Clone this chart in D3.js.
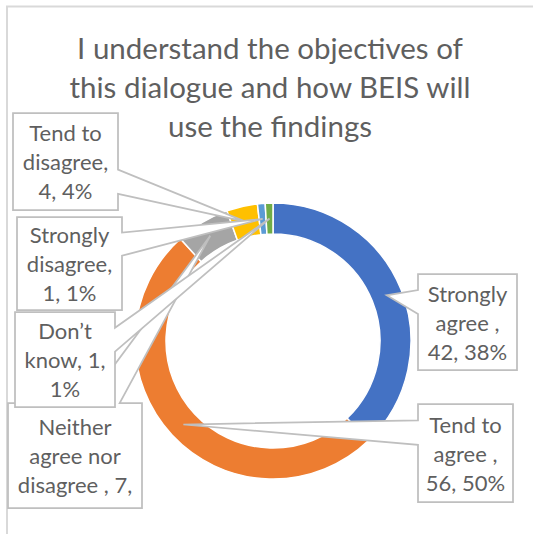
<!DOCTYPE html>
<html>
<head>
<meta charset="utf-8">
<script src="https://cdn.jsdelivr.net/npm/d3@7"></script>
<style>
  html, body { margin: 0; padding: 0; background: #fff; }
  svg { display: block; }
  text { font-family: Lato, "Noto Sans", sans-serif; font-weight: 400; fill: #5f5f5f; }
</style>
</head>
<body>
<svg id="chart" width="533" height="534"></svg>
<script>
// Survey responses
const categories = ["Strongly agree ", "Tend to agree ", "Neither agree nor disagree ", "Tend to disagree", "Strongly disagree", "Don\u2019t know"];
const counts = [42, 56, 7, 4, 1, 1];
const percents = [38, 50, 6, 4, 1, 1];
const titleLines = ["I understand the objectives of", "this dialogue and how BEIS will", "use the findings"];

// Slice colours (Office palette)
const sliceColors = ["#4472C4", "#ED7D31", "#A5A5A5", "#FFC000", "#5B9BD5", "#70AD47"];

// Callout boxes for each data label: [x, y, width, height]
const labelBoxes = [
  [418, 274, 99, 96],
  [418, 404, 95, 98],
  [8, 403, 134, 105],
  [13, 113, 105, 97],
  [17, 217, 105, 93],
  [15, 312, 100, 95]
];

const svg = d3.select("#chart");
const W = 533, H = 534;

svg.append("rect").attr("width", W).attr("height", H).attr("fill", "#fff");

// chart frame edges
svg.append("path")
  .attr("d", `M7,${H} L7,6.5 L${W},6.5`)
  .attr("fill", "none").attr("stroke", "#D9D9D9").attr("stroke-width", 2);

// title
const title = svg.append("text").attr("text-anchor", "middle").style("font-size", "29.5px");
titleLines.forEach((t, i) => {
  title.append("tspan").attr("x", 270).attr("y", 59 + i * 39).text(t);
});

// donut
const cx = 273, cy = 341, rOuter = 138, rInner = 107;
const pie = d3.pie().sort(null).value(d => d)(counts);
const arc = d3.arc().innerRadius(rInner).outerRadius(rOuter);

const g = svg.append("g").attr("transform", `translate(${cx},${cy})`);
g.selectAll("path.slice").data(pie).join("path")
  .attr("class", "slice")
  .attr("d", arc)
  .attr("fill", (d, i) => sliceColors[i])
  .attr("stroke", "#fff")
  .attr("stroke-width", 1.5);

// wedge-rectangle callout outline from a box to a tip point
function calloutPath(b, tip) {
  const [x, y, w, h] = b;
  const bx = x + w / 2, by = y + h / 2;
  const dxPos = tip[0] - bx, dyPos = tip[1] - by;
  const horiz = Math.abs(dxPos) * h > Math.abs(dyPos) * w;
  const p = [];
  if (horiz) {
    const y1 = y + h * (dyPos > 0 ? 7 : 2) / 12;
    const y2 = y + h * (dyPos > 0 ? 10 : 5) / 12;
    if (dxPos > 0) {
      p.push([x, y], [x + w, y], [x + w, y1], tip, [x + w, y2], [x + w, y + h], [x, y + h]);
    } else {
      p.push([x, y], [x + w, y], [x + w, y + h], [x, y + h], [x, y2], tip, [x, y1]);
    }
  } else {
    const x1 = x + w * (dxPos > 0 ? 7 : 2) / 12;
    const x2 = x + w * (dxPos > 0 ? 10 : 5) / 12;
    if (dyPos < 0) {
      p.push([x, y], [x1, y], tip, [x2, y], [x + w, y], [x + w, y + h], [x, y + h]);
    } else {
      p.push([x, y], [x + w, y], [x + w, y + h], [x2, y + h], tip, [x1, y + h], [x, y + h]);
    }
  }
  return "M" + p.map(q => q.join(",")).join("L") + "Z";
}

// data labels
const fontSize = 22, lineH = 29;
const labels = svg.append("g");
pie.forEach((d, i) => {
  const b = labelBoxes[i];
  const c = arc.centroid(d);
  const tip = [cx + c[0], cy + c[1]];
  const lg = labels.append("g");
  lg.append("path")
    .attr("d", calloutPath(b, tip))
    .attr("fill", "#fff")
    .attr("stroke", "#BFBFBF")
    .attr("stroke-width", 1.75)
    .attr("stroke-linejoin", "miter");

  const str = `${categories[i]}, ${counts[i]}, ${percents[i]}%`;
  const words = str.split(/\s+/).filter(s => s.length);
  const t = lg.append("text").attr("text-anchor", "middle").style("font-size", fontSize + "px");
  const maxW = b[2] - 10;
  // greedy word wrap to box width
  const lines = [];
  let cur = "";
  const probe = t.append("tspan");
  words.forEach(wd => {
    const trial = cur ? cur + " " + wd : wd;
    probe.text(trial);
    if (cur && probe.node().getComputedTextLength() > maxW) {
      lines.push(cur);
      cur = wd;
    } else {
      cur = trial;
    }
  });
  if (cur) lines.push(cur);
  probe.remove();

  const block = lines.length * lineH;
  let firstBase;
  if (block <= b[3]) firstBase = b[1] + b[3] / 2 - block / 2 + lineH * 0.8;
  else firstBase = b[1] + 32;
  lines.forEach((ln, k) => {
    const yy = firstBase + k * lineH;
    if (yy + 2 > b[1] + b[3]) return;
    t.append("tspan").attr("x", b[0] + b[2] / 2).attr("y", yy).text(ln);
  });
});
</script>
</body>
</html>
